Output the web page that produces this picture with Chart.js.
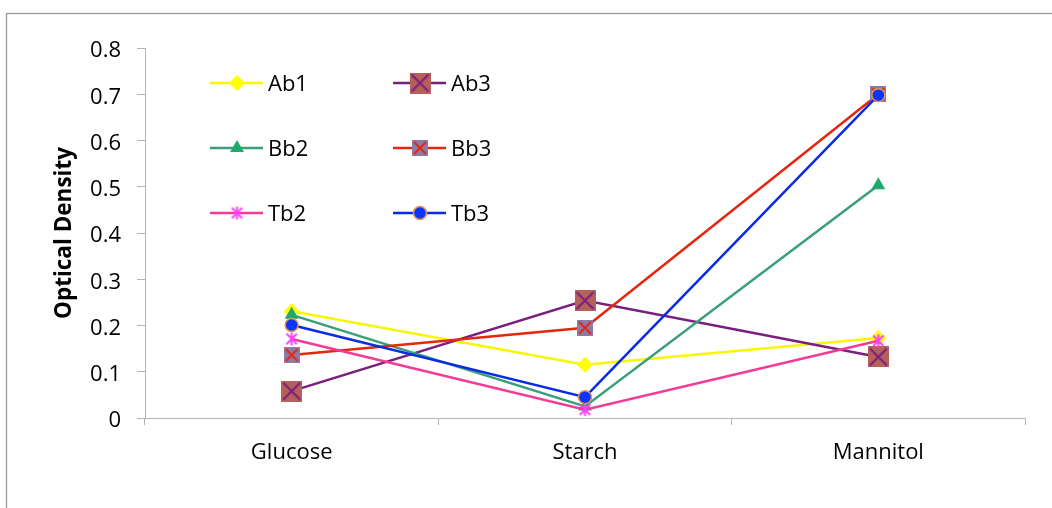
<!DOCTYPE html>
<html>
<head>
<meta charset="utf-8">
<script src="https://cdn.jsdelivr.net/npm/chart.js@4.4.1/dist/chart.umd.min.js"></script>
<style>
  html, body { margin: 0; padding: 0; background: #ffffff; }
  #wrap { width: 1052px; height: 508px; position: relative; }
</style>
</head>
<body>
<div id="wrap"><canvas id="c" width="1052" height="508"></canvas></div>
<script>
// Carbon sources tested
const categories = ['Glucose', 'Starch', 'Mannitol'];

// Optical density readings per isolate
const ab1 = [0.231, 0.115, 0.173];
const ab3 = [0.058, 0.254, 0.132];
const bb2 = [0.223, 0.025, 0.503];
const bb3 = [0.136, 0.195, 0.700];
const tb2 = [0.171, 0.018, 0.167];
const tb3 = [0.201, 0.045, 0.698];

const yTicks = [0, 0.1, 0.2, 0.3, 0.4, 0.5, 0.6, 0.7, 0.8];

const FONT = '"Open Sans", "Liberation Sans", sans-serif';

// Marker images: square with a cross, and an asterisk
function squareCross(size, fill, stroke) {
  const c = document.createElement('canvas');
  c.width = size; c.height = size;
  const g = c.getContext('2d');
  g.fillStyle = fill;
  g.fillRect(0, 0, size, size);
  g.strokeStyle = stroke;
  g.lineWidth = 2;
  g.beginPath();
  g.moveTo(2, 2); g.lineTo(size - 2, size - 2);
  g.moveTo(size - 2, 2); g.lineTo(2, size - 2);
  g.stroke();
  return c;
}
function asterisk(size, color) {
  const c = document.createElement('canvas');
  c.width = size; c.height = size;
  const g = c.getContext('2d');
  const m = size / 2, r = size / 2 - 1;
  g.strokeStyle = color;
  g.lineWidth = 2;
  g.beginPath();
  g.moveTo(m, m - r); g.lineTo(m, m + r);
  const d = r * 0.8;
  g.moveTo(m - d, m - d); g.lineTo(m + d, m + d);
  g.moveTo(m + d, m - d); g.lineTo(m - d, m + d);
  g.stroke();
  return c;
}

const ab3Marker = squareCross(21, '#B5605A', '#7A1F7E');
const bb3Marker = squareCross(16, '#8D7BA7', '#E5270F');
const tb2Marker = asterisk(15, '#FF40FF');

const datasets = [
  { label: 'Ab1', data: ab1, borderColor: '#F7F700', backgroundColor: '#FFFF00', borderWidth: 2.5,
    pointStyle: 'rectRot', pointRadius: 8, pointBorderWidth: 0, order: 6 },
  { label: 'Ab3', data: ab3, borderColor: '#7A1F7E', backgroundColor: '#B5605A', borderWidth: 2.5,
    pointStyle: ab3Marker, pointRadius: 10, order: 5 },
  { label: 'Bb2', data: bb2, borderColor: '#3A9E78', backgroundColor: '#1FAA6B', borderWidth: 2.5,
    pointStyle: 'triangle', pointRadius: 8, pointBorderWidth: 0, order: 4 },
  { label: 'Bb3', data: bb3, borderColor: '#E5270F', backgroundColor: '#8D7BA7', borderWidth: 2.5,
    pointStyle: bb3Marker, pointRadius: 8, order: 3 },
  { label: 'Tb2', data: tb2, borderColor: '#F23C98', backgroundColor: '#FF40FF', borderWidth: 2.5,
    pointStyle: tb2Marker, pointRadius: 7, order: 2 },
  { label: 'Tb3', data: tb3, borderColor: '#0A2BE6', backgroundColor: '#0A34FF', borderWidth: 2.5,
    pointStyle: 'circle', pointRadius: 6.5, pointBorderWidth: 1.5, pointBorderColor: '#E8954A', order: 1 }
];
datasets.forEach(d => {
  d.tension = 0;
  d.fill = false;
  d.pointBackgroundColor = d.backgroundColor;
  if (!d.pointBorderColor) d.pointBorderColor = d.backgroundColor;
  if (d.pointBorderWidth === undefined) d.pointBorderWidth = 0;
  d.pointHoverRadius = d.pointRadius;
});

// White page with the outer frame
const framePlugin = {
  id: 'frame',
  beforeDraw(chart) {
    const ctx = chart.ctx;
    ctx.save();
    ctx.fillStyle = '#ffffff';
    ctx.fillRect(0, 0, chart.width, chart.height);
    ctx.strokeStyle = '#9a9a9a';
    ctx.lineWidth = 1.3;
    ctx.strokeRect(6.5, 13.5, chart.width + 20, chart.height + 20);
    ctx.restore();
  }
};

// Two-column legend inside the plot
const legendPlugin = {
  id: 'gridLegend',
  afterDraw(chart) {
    const ctx = chart.ctx;
    const colX = [210, 393];
    const rowY = [83, 148, 213];
    ctx.save();
    chart.data.datasets.forEach((ds, i) => {
      const x = colX[i % 2];
      const y = rowY[Math.floor(i / 2)];
      ctx.strokeStyle = ds.borderColor;
      ctx.lineWidth = 2.5;
      ctx.beginPath();
      ctx.moveTo(x, y); ctx.lineTo(x + 53, y);
      ctx.stroke();
      ctx.fillStyle = ds.pointBackgroundColor;
      ctx.strokeStyle = ds.pointBorderColor;
      ctx.lineWidth = ds.pointBorderWidth;
      Chart.helpers.drawPoint(ctx, {
        pointStyle: ds.pointStyle, rotation: 0,
        radius: ds.pointRadius, borderWidth: ds.pointBorderWidth
      }, x + 27, y);
      ctx.fillStyle = '#000000';
      ctx.font = '22px ' + FONT;
      ctx.textBaseline = 'middle';
      ctx.textAlign = 'left';
      ctx.fillText(ds.label, x + 58, y + 2);
    });
    ctx.restore();
  }
};

const axisColor = '#b4b4b4';

new Chart(document.getElementById('c'), {
  type: 'line',
  data: { labels: categories, datasets },
  options: {
    responsive: false,
    animation: false,
    events: [],
    layout: { padding: { top: 48, right: 27, bottom: 0, left: 0 } },
    plugins: { legend: { display: false }, tooltip: { enabled: false } },
    scales: {
      x: {
        offset: true,
        grid: { offset: true, drawOnChartArea: false, drawTicks: true, tickLength: 7, color: axisColor },
        border: { color: axisColor, width: 1 },
        ticks: { color: '#000000', font: { family: FONT, size: 22 }, padding: 15, maxRotation: 0 },
        afterFit(scale) { scale.height = 90; }
      },
      y: {
        min: 0, max: 0.8,
        afterBuildTicks(scale) { scale.ticks = yTicks.map(v => ({ value: v })); },
        grid: { drawOnChartArea: false, drawTicks: true, tickLength: 8, color: axisColor },
        border: { color: axisColor, width: 1 },
        ticks: { color: '#000000', font: { family: FONT, size: 22 }, padding: 16, labelOffset: 3,
                 callback: v => String(Math.round(v * 10) / 10) },
        title: { display: true, text: 'Optical Density', color: '#000000',
                 font: { family: FONT, size: 22.5, weight: 'bold' }, padding: { top: 51, bottom: 0 } },
        afterFit(scale) { scale.width = 145; }
      }
    }
  },
  plugins: [framePlugin, legendPlugin]
});
</script>
</body>
</html>
